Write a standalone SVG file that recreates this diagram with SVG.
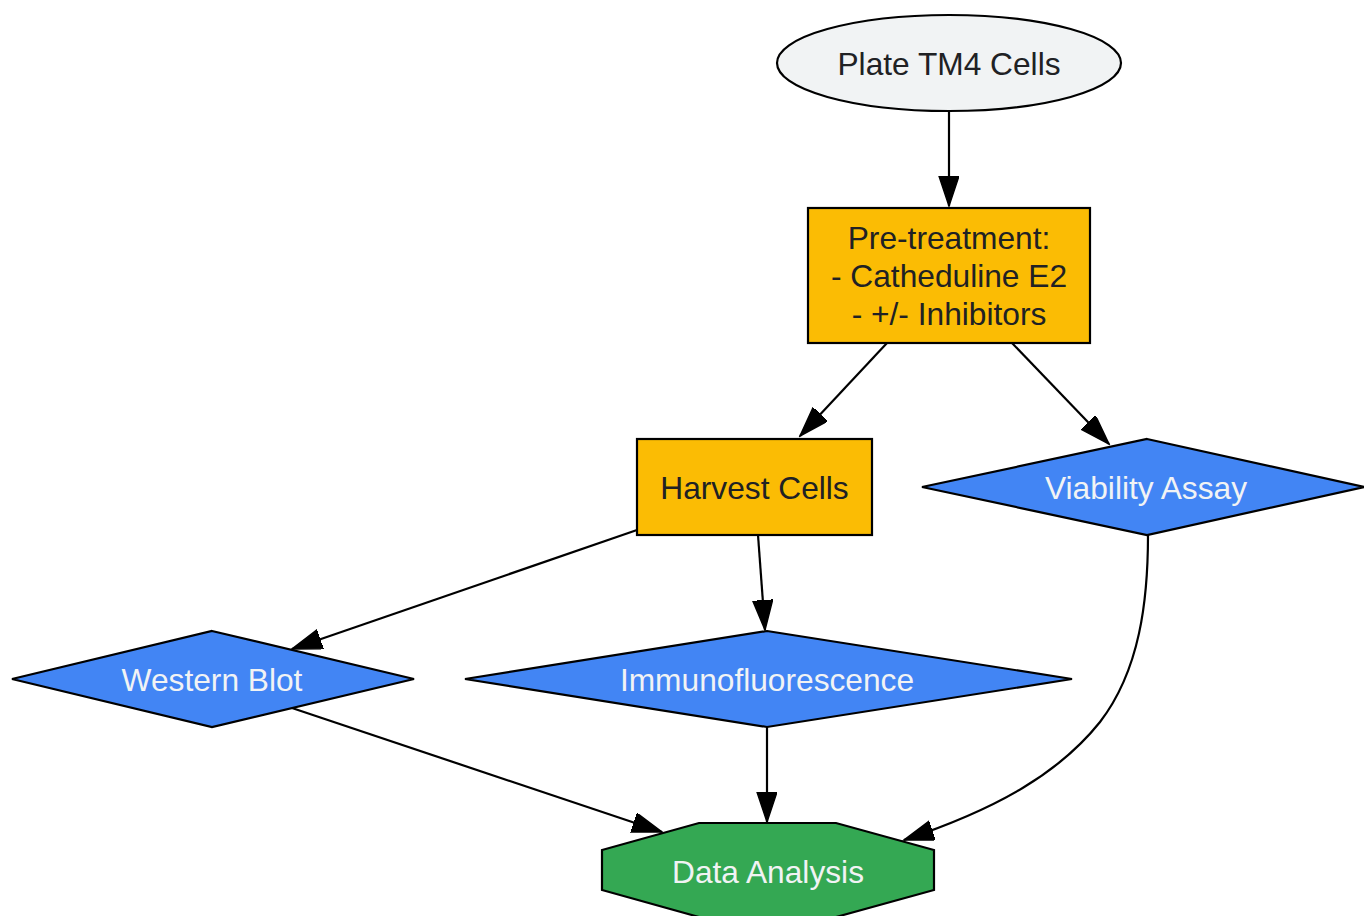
<svg xmlns="http://www.w3.org/2000/svg" width="1364" height="916" viewBox="0 0 1364 916">
<style>
.n{stroke:#000;stroke-width:2.2}
.t{font-family:"Liberation Sans",Arial,sans-serif;font-size:31.7px;text-anchor:middle}
.d{fill:#202124}
.w{fill:#f1f3f4}
.e{fill:none;stroke:#000;stroke-width:2.2}
</style>
<defs>
<marker id="ah" markerUnits="userSpaceOnUse" markerWidth="32" markerHeight="22" refX="30" refY="10" orient="auto" viewBox="0 0 32 22">
<path d="M0,0 L30,10 L0,20 z" fill="#000" stroke="#000" stroke-width="1.5"/>
</marker>
</defs>
<rect width="1364" height="916" fill="#fff"/>
<g id="edges">
<path class="e" d="M949,111 L949,206" marker-end="url(#ah)"/>
<path class="e" d="M887,343 L800,436" marker-end="url(#ah)"/>
<path class="e" d="M1012,343 L1109,444" marker-end="url(#ah)"/>
<path class="e" d="M637,530 L292,649" marker-end="url(#ah)"/>
<path class="e" d="M758,535 L765,630" marker-end="url(#ah)"/>
<path class="e" d="M292,708 L662,832" marker-end="url(#ah)"/>
<path class="e" d="M767,727 L767,822" marker-end="url(#ah)"/>
<path class="e" d="M1148,535 C1148,600 1140,670 1100,722 C1060,772 1000,808 904,840" marker-end="url(#ah)"/>
</g>
<g id="plate">
<ellipse class="n" cx="949" cy="63" rx="172" ry="48" fill="#f1f3f4"/>
<text class="t d" x="949" y="75">Plate TM4 Cells</text>
</g>
<g id="pretreat">
<rect class="n" x="808" y="208" width="282" height="135" fill="#fbbc04"/>
<text class="t d" x="949" y="249">Pre-treatment:</text>
<text class="t d" x="949" y="287">- Catheduline E2</text>
<text class="t d" x="949" y="325">- +/- Inhibitors</text>
</g>
<g id="harvest">
<rect class="n" x="637" y="439" width="235" height="96" fill="#fbbc04"/>
<text class="t d" x="754.5" y="499">Harvest Cells</text>
</g>
<g id="viability">
<polygon class="n" points="1147,439 1364,487 1147,535 922,487" fill="#4285f4"/>
<text class="t w" x="1146" y="499">Viability Assay</text>
</g>
<g id="western">
<polygon class="n" points="212,631 414,679 212,727 12,679" fill="#4285f4"/>
<text class="t w" x="212" y="691">Western Blot</text>
</g>
<g id="immuno">
<polygon class="n" points="767,631 1072,679 767,727 465,679" fill="#4285f4"/>
<text class="t w" x="767" y="691">Immunofluorescence</text>
</g>
<g id="data">
<polygon class="n" points="699,823 836,823 934,850 934,890 836,917 699,917 602,890 602,850" fill="#34a853"/>
<text class="t w" x="768" y="883">Data Analysis</text>
</g>
</svg>
